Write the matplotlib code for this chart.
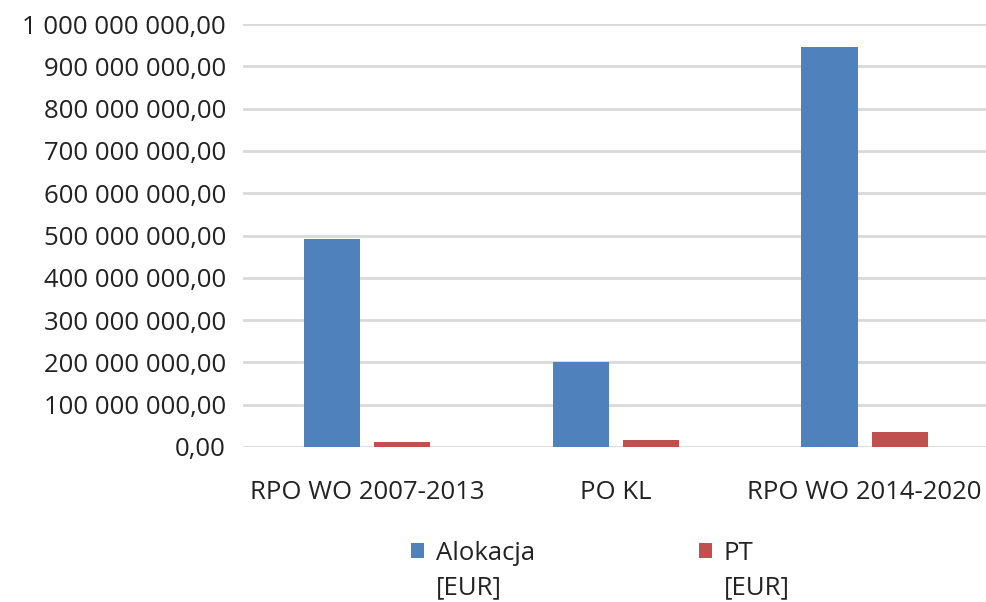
import numpy as np
import matplotlib.pyplot as plt
from matplotlib.ticker import FuncFormatter

categories = ['RPO WO 2007-2013', 'PO KL', 'RPO WO 2014-2020']
alokacja = [492000000, 201000000, 945000000]
pt = [11000000, 16500000, 35500000]
series_names = ['Alokacja', 'PT']
unit = '[EUR]'

plt.rcParams['font.family'] = ['Open Sans', 'DejaVu Sans']

fig = plt.figure(figsize=(9.86, 6.02), dpi=100)
ax = fig.add_axes([0.246, 0.2575, 0.757, 0.7025])

x = np.arange(len(categories))
w = 0.226
off = 0.141
ax.bar(x - off, alokacja, w, color='#4F81BD', label=series_names[0], zorder=3)
ax.bar(x + off, pt, w, color='#C0504D', label=series_names[1], zorder=3)

ax.set_xlim(-0.5, 2.5)
ax.set_ylim(0, 1000000000)
ax.set_yticks(np.arange(0, 1000000001, 100000000))


def fmt(v, pos):
    s = f'{v:,.2f}'.replace(',', ' ').replace('.', ',')
    return s


ax.yaxis.set_major_formatter(FuncFormatter(fmt))
ax.grid(axis='y', color='#D9D9D9', linewidth=2, zorder=0)
ax.set_xticks(x)
ax.set_xticklabels(categories)
ax.tick_params(axis='both', length=0, labelsize=18.5, colors='#222222')
ax.tick_params(axis='x', pad=24)
ax.tick_params(axis='y', pad=12)
for s in ax.spines.values():
    s.set_visible(False)

leg = fig.legend(loc='center left', bbox_to_anchor=(0.417, 0.081), ncol=2,
                 frameon=False, fontsize=18.5, handlelength=0.5, handleheight=0.5,
                 handletextpad=0.45, columnspacing=6.4, borderaxespad=0,
                 borderpad=0)
for t in leg.get_texts():
    t.set_color('#222222')

# second line of each legend entry
fig.canvas.draw()
r = fig.canvas.get_renderer()
for t in leg.get_texts():
    bb = t.get_window_extent(r)
    fig.text(bb.x0 / fig.bbox.width, (bb.y0 - 35) / fig.bbox.height, unit,
             fontsize=18.5, color='#222222', ha='left', va='bottom')

fig.savefig('out.png', dpi=100)
